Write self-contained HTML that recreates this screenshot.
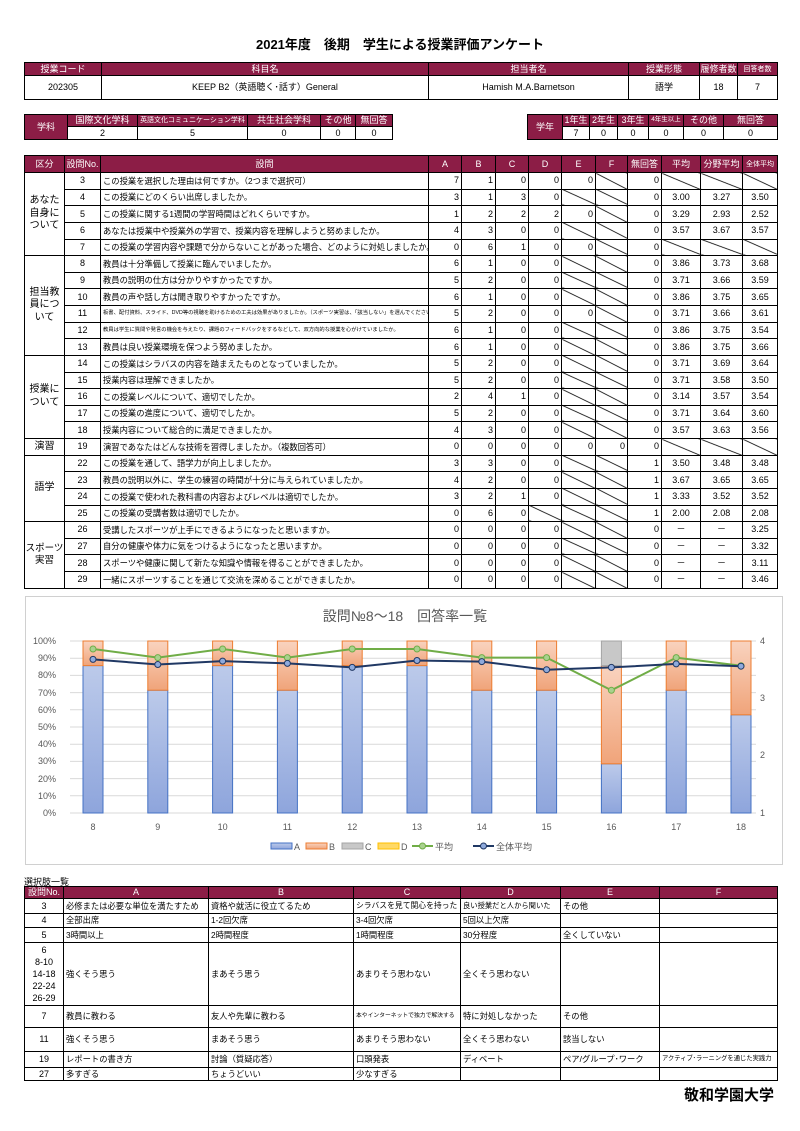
<!DOCTYPE html>
<html><head><meta charset="utf-8">
<style>
*{margin:0;padding:0;box-sizing:border-box}
body{width:800px;height:1131px;background:#fff;position:relative;font-family:"Liberation Sans","Noto Sans CJK JP",sans-serif;color:#000;overflow:hidden}
.abs{position:absolute}
table{border-collapse:collapse;table-layout:fixed;position:absolute}
td,th{border:1px solid #000;font-size:9px;font-weight:normal;overflow:hidden;white-space:nowrap;line-height:1}
th{background:#8c1d46;color:#fff;text-align:center}
td{text-align:center}
.r{text-align:right;padding-right:2px}
.l{text-align:left;padding-left:2px}
#m td.l,#b td.l{font-size:8.3px}
#m td.s{font-size:5.3px}
.d{background:linear-gradient(to top right,transparent calc(50% - 0.8px),#000 50%,transparent calc(50% + 0.8px))}
.k{line-height:1.25;font-size:10px}
#m td,#m th{height:16.64px}
#m th{height:17px}
</style></head><body>
<div class="abs" style="left:0;width:800px;top:34px;text-align:center;font-size:13px;font-weight:bold">2021年度　後期　学生による授業評価アンケート</div>

<table style="left:24px;top:62px;width:753px">
<colgroup><col style="width:77px"><col style="width:327px"><col style="width:200px"><col style="width:71px"><col style="width:38px"><col style="width:40px"></colgroup>
<tr style="height:13px"><th>授業コード</th><th>科目名</th><th>担当者名</th><th>授業形態</th><th>履修者数</th><th style="font-size:7px">回答者数</th></tr>
<tr style="height:24px"><td>202305</td><td>KEEP B2（英語聴く･話す）General</td><td>Hamish M.A.Barnetson</td><td>語学</td><td>18</td><td>7</td></tr>
</table>

<table style="left:24px;top:114px;width:368px">
<colgroup><col style="width:43px"><col style="width:70px"><col style="width:110px"><col style="width:73px"><col style="width:35px"><col style="width:37px"></colgroup>
<tr style="height:12px"><th rowspan="2">学科</th><th>国際文化学科</th><th style="font-size:7px">英語文化コミュニケーション学科</th><th>共生社会学科</th><th>その他</th><th>無回答</th></tr>
<tr style="height:13px"><td>2</td><td>5</td><td>0</td><td>0</td><td>0</td></tr>
</table>

<table style="left:527px;top:114px;width:250px">
<colgroup><col style="width:35px"><col style="width:27px"><col style="width:28px"><col style="width:31px"><col style="width:35px"><col style="width:40px"><col style="width:54px"></colgroup>
<tr style="height:12px"><th rowspan="2">学年</th><th>1年生</th><th>2年生</th><th>3年生</th><th style="font-size:6.5px">4年生以上</th><th>その他</th><th>無回答</th></tr>
<tr style="height:13px"><td>7</td><td>0</td><td>0</td><td>0</td><td>0</td><td>0</td></tr>
</table>

<table id="m" style="left:24px;top:155px;width:753px">
<colgroup><col style="width:40px"><col style="width:36px"><col style="width:328px"><col style="width:33px"><col style="width:34px"><col style="width:33px"><col style="width:33px"><col style="width:34px"><col style="width:32px"><col style="width:34px"><col style="width:39px"><col style="width:42px"><col style="width:35px"></colgroup>
<tr><th>区分</th><th>設問No.</th><th>設問</th><th>A</th><th>B</th><th>C</th><th>D</th><th>E</th><th>F</th><th>無回答</th><th>平均</th><th>分野平均</th><th style="font-size:7px">全体平均</th></tr>
<tr><td rowspan="5" class="k">あなた<br>自身に<br>ついて</td><td>3</td><td class="l">この授業を選択した理由は何ですか。（2つまで選択可）</td><td class="r">7</td><td class="r">1</td><td class="r">0</td><td class="r">0</td><td class="r">0</td><td class="d"></td><td class="r">0</td><td class="d"></td><td class="d"></td><td class="d"></td></tr>
<tr><td>4</td><td class="l">この授業にどのくらい出席しましたか。</td><td class="r">3</td><td class="r">1</td><td class="r">3</td><td class="r">0</td><td class="d"></td><td class="d"></td><td class="r">0</td><td>3.00</td><td>3.27</td><td>3.50</td></tr>
<tr><td>5</td><td class="l">この授業に関する1週間の学習時間はどれくらいですか。</td><td class="r">1</td><td class="r">2</td><td class="r">2</td><td class="r">2</td><td class="r">0</td><td class="d"></td><td class="r">0</td><td>3.29</td><td>2.93</td><td>2.52</td></tr>
<tr><td>6</td><td class="l">あなたは授業中や授業外の学習で、授業内容を理解しようと努めましたか。</td><td class="r">4</td><td class="r">3</td><td class="r">0</td><td class="r">0</td><td class="d"></td><td class="d"></td><td class="r">0</td><td>3.57</td><td>3.67</td><td>3.57</td></tr>
<tr><td>7</td><td class="l">この授業の学習内容や課題で分からないことがあった場合、どのように対処しましたか。</td><td class="r">0</td><td class="r">6</td><td class="r">1</td><td class="r">0</td><td class="r">0</td><td class="d"></td><td class="r">0</td><td class="d"></td><td class="d"></td><td class="d"></td></tr>
<tr><td rowspan="6" class="k">担当教<br>員につ<br>いて</td><td>8</td><td class="l">教員は十分準備して授業に臨んでいましたか。</td><td class="r">6</td><td class="r">1</td><td class="r">0</td><td class="r">0</td><td class="d"></td><td class="d"></td><td class="r">0</td><td>3.86</td><td>3.73</td><td>3.68</td></tr>
<tr><td>9</td><td class="l">教員の説明の仕方は分かりやすかったですか。</td><td class="r">5</td><td class="r">2</td><td class="r">0</td><td class="r">0</td><td class="d"></td><td class="d"></td><td class="r">0</td><td>3.71</td><td>3.66</td><td>3.59</td></tr>
<tr><td>10</td><td class="l">教員の声や話し方は聞き取りやすかったですか。</td><td class="r">6</td><td class="r">1</td><td class="r">0</td><td class="r">0</td><td class="d"></td><td class="d"></td><td class="r">0</td><td>3.86</td><td>3.75</td><td>3.65</td></tr>
<tr><td>11</td><td class="l s">板書、配付資料、スライド、DVD等の視聴を助けるための工夫は効果がありましたか。（スポーツ実習は、「該当しない」を選んでください）</td><td class="r">5</td><td class="r">2</td><td class="r">0</td><td class="r">0</td><td class="r">0</td><td class="d"></td><td class="r">0</td><td>3.71</td><td>3.66</td><td>3.61</td></tr>
<tr><td>12</td><td class="l s">教員は学生に質問や発言の機会を与えたり、課題のフィードバックをするなどして、双方向的な授業を心がけていましたか。</td><td class="r">6</td><td class="r">1</td><td class="r">0</td><td class="r">0</td><td class="d"></td><td class="d"></td><td class="r">0</td><td>3.86</td><td>3.75</td><td>3.54</td></tr>
<tr><td>13</td><td class="l">教員は良い授業環境を保つよう努めましたか。</td><td class="r">6</td><td class="r">1</td><td class="r">0</td><td class="r">0</td><td class="d"></td><td class="d"></td><td class="r">0</td><td>3.86</td><td>3.75</td><td>3.66</td></tr>
<tr><td rowspan="5" class="k">授業に<br>ついて</td><td>14</td><td class="l">この授業はシラバスの内容を踏まえたものとなっていましたか。</td><td class="r">5</td><td class="r">2</td><td class="r">0</td><td class="r">0</td><td class="d"></td><td class="d"></td><td class="r">0</td><td>3.71</td><td>3.69</td><td>3.64</td></tr>
<tr><td>15</td><td class="l">授業内容は理解できましたか。</td><td class="r">5</td><td class="r">2</td><td class="r">0</td><td class="r">0</td><td class="d"></td><td class="d"></td><td class="r">0</td><td>3.71</td><td>3.58</td><td>3.50</td></tr>
<tr><td>16</td><td class="l">この授業レベルについて、適切でしたか。</td><td class="r">2</td><td class="r">4</td><td class="r">1</td><td class="r">0</td><td class="d"></td><td class="d"></td><td class="r">0</td><td>3.14</td><td>3.57</td><td>3.54</td></tr>
<tr><td>17</td><td class="l">この授業の進度について、適切でしたか。</td><td class="r">5</td><td class="r">2</td><td class="r">0</td><td class="r">0</td><td class="d"></td><td class="d"></td><td class="r">0</td><td>3.71</td><td>3.64</td><td>3.60</td></tr>
<tr><td>18</td><td class="l">授業内容について総合的に満足できましたか。</td><td class="r">4</td><td class="r">3</td><td class="r">0</td><td class="r">0</td><td class="d"></td><td class="d"></td><td class="r">0</td><td>3.57</td><td>3.63</td><td>3.56</td></tr>
<tr><td class="k">演習</td><td>19</td><td class="l">演習であなたはどんな技術を習得しましたか。（複数回答可）</td><td class="r">0</td><td class="r">0</td><td class="r">0</td><td class="r">0</td><td class="r">0</td><td class="r">0</td><td class="r">0</td><td class="d"></td><td class="d"></td><td class="d"></td></tr>
<tr><td rowspan="4" class="k">語学</td><td>22</td><td class="l">この授業を通して、語学力が向上しましたか。</td><td class="r">3</td><td class="r">3</td><td class="r">0</td><td class="r">0</td><td class="d"></td><td class="d"></td><td class="r">1</td><td>3.50</td><td>3.48</td><td>3.48</td></tr>
<tr><td>23</td><td class="l">教員の説明以外に、学生の練習の時間が十分に与えられていましたか。</td><td class="r">4</td><td class="r">2</td><td class="r">0</td><td class="r">0</td><td class="d"></td><td class="d"></td><td class="r">1</td><td>3.67</td><td>3.65</td><td>3.65</td></tr>
<tr><td>24</td><td class="l">この授業で使われた教科書の内容およびレベルは適切でしたか。</td><td class="r">3</td><td class="r">2</td><td class="r">1</td><td class="r">0</td><td class="d"></td><td class="d"></td><td class="r">1</td><td>3.33</td><td>3.52</td><td>3.52</td></tr>
<tr><td>25</td><td class="l">この授業の受講者数は適切でしたか。</td><td class="r">0</td><td class="r">6</td><td class="r">0</td><td class="d"></td><td class="d"></td><td class="d"></td><td class="r">1</td><td>2.00</td><td>2.08</td><td>2.08</td></tr>
<tr><td rowspan="4" class="k" style="font-size:9.5px">スポーツ<br>実習</td><td>26</td><td class="l">受講したスポーツが上手にできるようになったと思いますか。</td><td class="r">0</td><td class="r">0</td><td class="r">0</td><td class="r">0</td><td class="d"></td><td class="d"></td><td class="r">0</td><td>－</td><td>－</td><td>3.25</td></tr>
<tr><td>27</td><td class="l">自分の健康や体力に気をつけるようになったと思いますか。</td><td class="r">0</td><td class="r">0</td><td class="r">0</td><td class="r">0</td><td class="d"></td><td class="d"></td><td class="r">0</td><td>－</td><td>－</td><td>3.32</td></tr>
<tr><td>28</td><td class="l">スポーツや健康に関して新たな知識や情報を得ることができましたか。</td><td class="r">0</td><td class="r">0</td><td class="r">0</td><td class="r">0</td><td class="d"></td><td class="d"></td><td class="r">0</td><td>－</td><td>－</td><td>3.11</td></tr>
<tr><td>29</td><td class="l">一緒にスポーツすることを通じて交流を深めることができましたか。</td><td class="r">0</td><td class="r">0</td><td class="r">0</td><td class="r">0</td><td class="d"></td><td class="d"></td><td class="r">0</td><td>－</td><td>－</td><td>3.46</td></tr>
</table>

<svg class="abs" style="left:0;top:0" width="800" height="1131" font-family="Liberation Sans, Noto Sans CJK JP, sans-serif">
<defs>
<linearGradient id="ga" x1="0" y1="0" x2="0" y2="1"><stop offset="0" stop-color="#bccaea"/><stop offset="1" stop-color="#8ea5dc"/></linearGradient>
<linearGradient id="gb" x1="0" y1="0" x2="0" y2="1"><stop offset="0" stop-color="#f9d3bf"/><stop offset="1" stop-color="#f0a47a"/></linearGradient>
</defs>
<rect x="25.5" y="596.5" width="757" height="268" fill="#fff" stroke="#d0d0d0"/>
<text x="405" y="621" font-size="14" text-anchor="middle" fill="#595959">設問№8～18　回答率一覧</text>
<g stroke="#d9d9d9" stroke-width="1">
<line x1="70" x2="756" y1="641" y2="641"/><line x1="70" x2="756" y1="658.2" y2="658.2"/><line x1="70" x2="756" y1="675.4" y2="675.4"/><line x1="70" x2="756" y1="692.6" y2="692.6"/><line x1="70" x2="756" y1="709.8" y2="709.8"/><line x1="70" x2="756" y1="727" y2="727"/><line x1="70" x2="756" y1="744.2" y2="744.2"/><line x1="70" x2="756" y1="761.4" y2="761.4"/><line x1="70" x2="756" y1="778.6" y2="778.6"/><line x1="70" x2="756" y1="795.8" y2="795.8"/><line x1="70" x2="756" y1="813" y2="813"/>
</g>
<g font-size="9" fill="#595959" text-anchor="end">
<text x="56" y="644">100%</text><text x="56" y="661">90%</text><text x="56" y="678">80%</text><text x="56" y="696">70%</text><text x="56" y="713">60%</text><text x="56" y="730">50%</text><text x="56" y="747">40%</text><text x="56" y="764">30%</text><text x="56" y="782">20%</text><text x="56" y="799">10%</text><text x="56" y="816">0%</text>
</g>
<g font-size="9" fill="#595959">
<text x="760" y="644">4</text><text x="760" y="701">3</text><text x="760" y="758">2</text><text x="760" y="816">1</text>
</g>
<g stroke-width="1">
<g stroke="#4472c4" fill="url(#ga)">
<rect x="83" y="665.6" width="20" height="147.4"/><rect x="147.8" y="690.2" width="20" height="122.8"/><rect x="212.6" y="665.6" width="20" height="147.4"/><rect x="277.4" y="690.2" width="20" height="122.8"/><rect x="342.2" y="665.6" width="20" height="147.4"/><rect x="407" y="665.6" width="20" height="147.4"/><rect x="471.8" y="690.2" width="20" height="122.8"/><rect x="536.6" y="690.2" width="20" height="122.8"/><rect x="601.4" y="763.8" width="20" height="49.2"/><rect x="666.2" y="690.2" width="20" height="122.8"/><rect x="731" y="714.8" width="20" height="98.2"/>
</g>
<g stroke="#ed7d31" fill="url(#gb)">
<rect x="83" y="641" width="20" height="24.6"/><rect x="147.8" y="641" width="20" height="49.2"/><rect x="212.6" y="641" width="20" height="24.6"/><rect x="277.4" y="641" width="20" height="49.2"/><rect x="342.2" y="641" width="20" height="24.6"/><rect x="407" y="641" width="20" height="24.6"/><rect x="471.8" y="641" width="20" height="49.2"/><rect x="536.6" y="641" width="20" height="49.2"/><rect x="601.4" y="665.6" width="20" height="98.2"/><rect x="666.2" y="641" width="20" height="49.2"/><rect x="731" y="641" width="20" height="73.8"/>
</g>
<rect x="601.4" y="641" width="20" height="24.6" fill="#c8c8c8" stroke="#a5a5a5"/>
</g>
<polyline fill="none" stroke="#70ad47" stroke-width="2" points="93,649 157.8,657.6 222.6,649 287.4,657.6 352.2,649 417,649 481.8,657.6 546.6,657.6 611.4,690.3 676.2,657.6 741,665.7"/>
<g fill="#a9d18e" stroke="#70ad47" stroke-width="1">
<circle cx="93" cy="649" r="3"/><circle cx="157.8" cy="657.6" r="3"/><circle cx="222.6" cy="649" r="3"/><circle cx="287.4" cy="657.6" r="3"/><circle cx="352.2" cy="649" r="3"/><circle cx="417" cy="649" r="3"/><circle cx="481.8" cy="657.6" r="3"/><circle cx="546.6" cy="657.6" r="3"/><circle cx="611.4" cy="690.3" r="3"/><circle cx="676.2" cy="657.6" r="3"/><circle cx="741" cy="665.7" r="3"/>
</g>
<polyline fill="none" stroke="#203864" stroke-width="2" points="93,659.4 157.8,664.5 222.6,661.1 287.4,663.4 352.2,667.4 417,660.5 481.8,661.6 546.6,669.7 611.4,667.4 676.2,663.9 741,666.2"/>
<g fill="#8faadc" stroke="#203864" stroke-width="1">
<circle cx="93" cy="659.4" r="3"/><circle cx="157.8" cy="664.5" r="3"/><circle cx="222.6" cy="661.1" r="3"/><circle cx="287.4" cy="663.4" r="3"/><circle cx="352.2" cy="667.4" r="3"/><circle cx="417" cy="660.5" r="3"/><circle cx="481.8" cy="661.6" r="3"/><circle cx="546.6" cy="669.7" r="3"/><circle cx="611.4" cy="667.4" r="3"/><circle cx="676.2" cy="663.9" r="3"/><circle cx="741" cy="666.2" r="3"/>
</g>
<g font-size="9" fill="#595959" text-anchor="middle">
<text x="93" y="830">8</text><text x="157.8" y="830">9</text><text x="222.6" y="830">10</text><text x="287.4" y="830">11</text><text x="352.2" y="830">12</text><text x="417" y="830">13</text><text x="481.8" y="830">14</text><text x="546.6" y="830">15</text><text x="611.4" y="830">16</text><text x="676.2" y="830">17</text><text x="741" y="830">18</text>
</g>
<g font-size="9" fill="#595959">
<rect x="271" y="843" width="21" height="6" fill="url(#ga)" stroke="#4472c4"/><text x="294" y="850">A</text>
<rect x="306" y="843" width="21" height="6" fill="url(#gb)" stroke="#ed7d31"/><text x="329" y="850">B</text>
<rect x="342" y="843" width="21" height="6" fill="#c8c8c8" stroke="#a5a5a5"/><text x="365" y="850">C</text>
<rect x="378" y="843" width="21" height="6" fill="#ffd966" stroke="#ffc000"/><text x="401" y="850">D</text>
<line x1="412" x2="433" y1="846" y2="846" stroke="#70ad47" stroke-width="2"/><circle cx="422.5" cy="846" r="3" fill="#a9d18e" stroke="#70ad47"/><text x="435" y="850">平均</text>
<line x1="473" x2="494" y1="846" y2="846" stroke="#203864" stroke-width="2"/><circle cx="483.5" cy="846" r="3" fill="#8faadc" stroke="#203864"/><text x="496" y="850">全体平均</text>
</g>
</svg>

<div class="abs" style="left:24px;top:875px;font-size:9px">選択肢一覧</div>
<table id="b" style="left:24px;top:886px;width:753px">
<colgroup><col style="width:39px"><col style="width:145px"><col style="width:145px"><col style="width:107px"><col style="width:100px"><col style="width:99px"><col style="width:118px"></colgroup>
<tr style="height:12px"><th>設問No.</th><th>A</th><th>B</th><th>C</th><th>D</th><th>E</th><th>F</th></tr>
<tr style="height:15px"><td>3</td><td class="l">必修または必要な単位を満たすため</td><td class="l">資格や就活に役立てるため</td><td class="l" style="font-size:7.8px">シラバスを見て関心を持った</td><td class="l" style="font-size:7.3px">良い授業だと人から聞いた</td><td class="l">その他</td><td></td></tr>
<tr style="height:14px"><td>4</td><td class="l">全部出席</td><td class="l">1-2回欠席</td><td class="l">3-4回欠席</td><td class="l">5回以上欠席</td><td></td><td></td></tr>
<tr style="height:15px"><td>5</td><td class="l">3時間以上</td><td class="l">2時間程度</td><td class="l">1時間程度</td><td class="l">30分程度</td><td class="l">全くしていない</td><td></td></tr>
<tr style="height:63px"><td style="line-height:1.35">6<br>8-10<br>14-18<br>22-24<br>26-29</td><td class="l">強くそう思う</td><td class="l">まあそう思う</td><td class="l">あまりそう思わない</td><td class="l">全くそう思わない</td><td></td><td></td></tr>
<tr style="height:22px"><td>7</td><td class="l">教員に教わる</td><td class="l">友人や先輩に教わる</td><td class="l" style="font-size:5.8px">本やインターネットで独力で解決する</td><td class="l">特に対処しなかった</td><td class="l">その他</td><td></td></tr>
<tr style="height:24px"><td>11</td><td class="l">強くそう思う</td><td class="l">まあそう思う</td><td class="l">あまりそう思わない</td><td class="l">全くそう思わない</td><td class="l">該当しない</td><td></td></tr>
<tr style="height:16px"><td>19</td><td class="l">レポートの書き方</td><td class="l">討論（質疑応答）</td><td class="l">口頭発表</td><td class="l">ディベート</td><td class="l">ペア/グループ･ワーク</td><td class="l" style="font-size:6.3px">アクティブ･ラーニングを通じた実践力</td></tr>
<tr style="height:13px"><td>27</td><td class="l">多すぎる</td><td class="l">ちょうどいい</td><td class="l">少なすぎる</td><td></td><td></td><td></td></tr>
</table>
<div class="abs" style="right:26px;top:1084px;font-size:15px;font-weight:bold">敬和学園大学</div>
</body></html>
